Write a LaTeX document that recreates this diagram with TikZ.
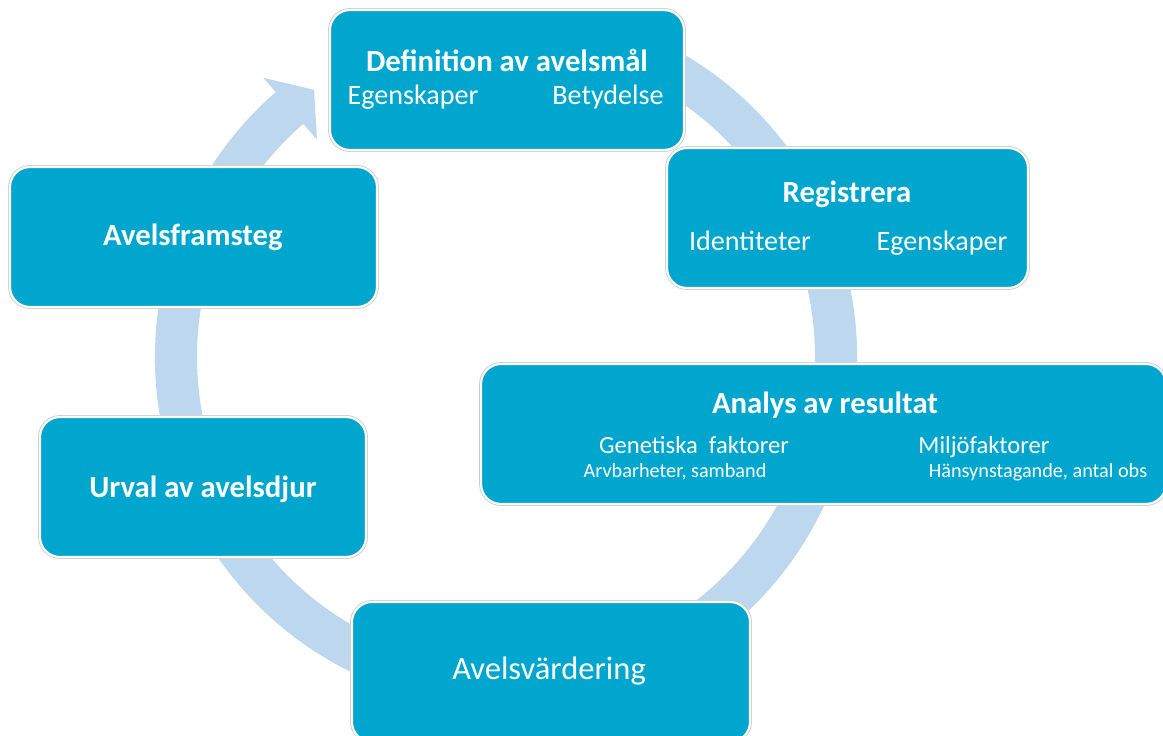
\documentclass[tikz,border=0pt]{standalone}
\usepackage{fontspec}
\setmainfont{Carlito}
\usetikzlibrary{calc}
\definecolor{boxblue}{RGB}{0,166,206}
\definecolor{ringblue}{RGB}{189,215,238}
\begin{document}
\begin{tikzpicture}[x=0.02cm,y=0.02cm,
	box/.style={fill=boxblue,draw=white,line width=1.2pt,rounded corners=0.4cm,
		minimum height=2.8cm,inner sep=0pt,preaction={draw=black!20,line width=2.2pt}},
	title/.style={anchor=base,text=white,font=\bfseries\fontsize{17.5}{20}\selectfont},
	sub/.style={anchor=base,text=white,font=\fontsize{16}{19}\selectfont},
	subsub/.style={anchor=base,text=white,font=\fontsize{14}{17}\selectfont},
	small/.style={anchor=base,text=white,font=\fontsize{11.5}{14}\selectfont}]
	\useasboundingbox (0,0) rectangle (1163,735);
	% ring with arrow head
	\coordinate (mid) at (506,378);
	\fill[ringblue] (mid) ++(75:351) arc[start angle=75,end angle=-229,radius=351]
		-- ($(mid)+(-229:370)$) -- ($(mid)+(-234.3:329)$) -- ($(mid)+(-229:288)$)
		-- ($(mid)+(-229:309)$) arc[start angle=-229,end angle=75,radius=309] -- cycle;
	% boxes
	\node[box,minimum width=7.08cm] (def) at (507,655) {};
	\node[box,minimum width=7.22cm] (reg) at (847.5,517) {};
	\node[box,minimum width=13.7cm] (ana) at (823.5,301) {};
	\node[box,minimum width=7.96cm] (val) at (551,63) {};
	\node[box,minimum width=6.52cm] (urv) at (203,248) {};
	\node[box,minimum width=7.34cm] (fram) at (193.5,498) {};
	% texts
	\node[title] (deft) at (507,663) {Definition av avelsmål};
	\node[sub] (defa) at (413,630) {Egenskaper};
	\node[sub] (defb) at (608,630) {Betydelse};
	\node[title] (regt) at (847,533) {Registrera};
	\node[sub] (rega) at (750,485) {Identiteter};
	\node[sub] (regb) at (942,485) {Egenskaper};
	\node[title] (anat) at (825,322) {Analys av resultat};
	\node[subsub] (anaa) at (694,282) {Genetiska~ faktorer};
	\node[subsub] (anab) at (984,282) {Miljöfaktorer};
	\node[small] (anac) at (675,258) {Arvbarheter, samband};
	\node[small] (anad) at (1038,258) {Hänsynstagande, antal obs};
	\node[anchor=base,text=white,font=\fontsize{18.5}{22}\selectfont] (valt) at (549,56) {Avelsvärdering};
	\node[title] (urvt) at (203,238) {Urval av avelsdjur};
	\node[title] (framt) at (193,490) {Avelsframsteg};
\end{tikzpicture}
\end{document}
